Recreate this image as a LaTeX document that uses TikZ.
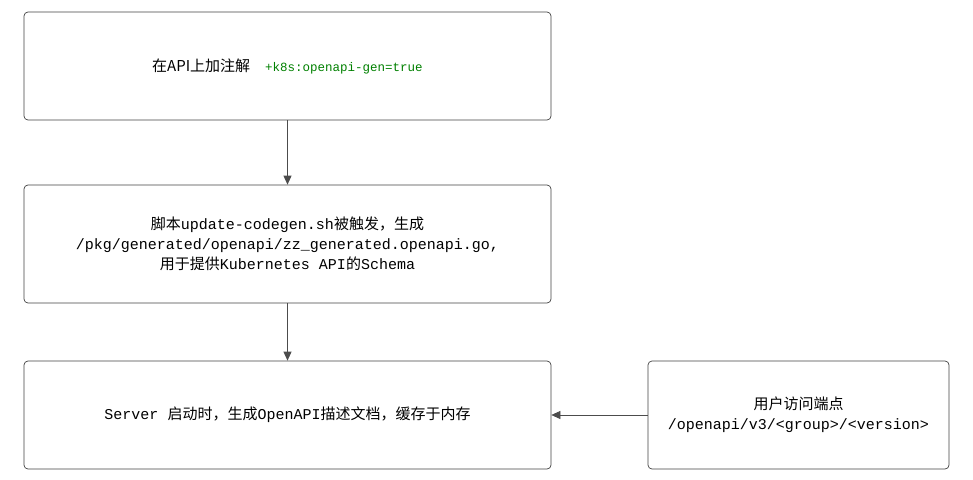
\documentclass[tikz,border=0pt]{standalone}
\usepackage{fontspec}
\setmainfont{Liberation Mono}
\newfontfamily\cjk{Noto Sans CJK SC}
\usetikzlibrary{arrows.meta}
\tikzset{box/.style={draw=black!75,line width=0.7pt,rounded corners=4pt,align=center,font=\fontsize{15}{20}\selectfont},
arr/.style={draw=black!70,line width=0.7pt,-{Triangle[length=9pt,width=8pt]}}}
\begin{document}
\begin{tikzpicture}[x=1pt,y=-1pt]
\useasboundingbox (0,0) rectangle (973,479);
\node[box,minimum width=527pt,minimum height=108pt] (a) at (287.5,66) {{\cjk 在API上加注解}\quad\textcolor{green!50!black}{\fontsize{12.5}{14}\selectfont +k8s:openapi-gen=true}};
\node[box,minimum width=527pt,minimum height=118pt] (b) at (287.5,244) {{\cjk 脚本}update-codegen.sh{\cjk 被触发，生成}\\/pkg/generated/openapi/zz\_generated.openapi.go,\\{\cjk 用于提供}Kubernetes API{\cjk 的}Schema};
\node[box,minimum width=527pt,minimum height=108pt] (c) at (287.5,415) {Server {\cjk 启动时，生成}OpenAPI{\cjk 描述文档，缓存于内存}};
\node[box,minimum width=301pt,minimum height=108pt] (d) at (798.5,415) {{\cjk 用户访问端点}\\/openapi/v3/<group>/<version>};
\draw[arr] (a) -- (b);
\draw[arr] (b) -- (c);
\draw[arr] (d) -- (c);
\end{tikzpicture}
\end{document}
